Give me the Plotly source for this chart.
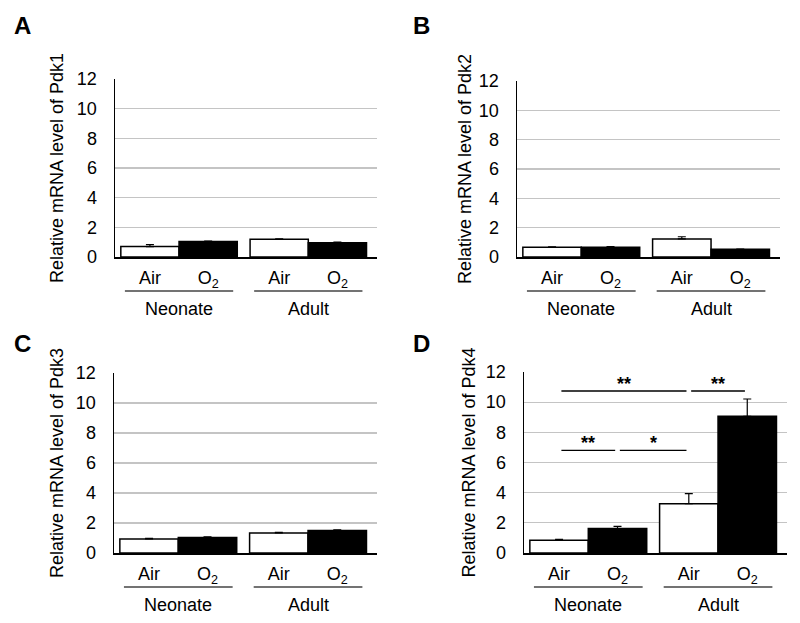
import plotly.graph_objects as go

W, H = 800, 623

groups = ["Neonate", "Adult"]
conditions = ["Air", "O<sub>2</sub>"]
genes = ["Pdk1", "Pdk2", "Pdk3", "Pdk4"]
panel_letters = ["A", "B", "C", "D"]

# values: [Neonate Air, Neonate O2, Adult Air, Adult O2]
pdk1_mean = [0.70, 1.05, 1.19, 0.96]
pdk1_err = [0.14, 0.03, 0.04, 0.04]
pdk2_mean = [0.66, 0.66, 1.23, 0.52]
pdk2_err = [0.03, 0.05, 0.15, 0.02]
pdk3_mean = [0.94, 1.03, 1.34, 1.50]
pdk3_err = [0.04, 0.05, 0.04, 0.05]
pdk4_mean = [0.84, 1.62, 3.27, 9.06]
pdk4_err = [0.07, 0.15, 0.67, 1.15]

means = [pdk1_mean, pdk2_mean, pdk3_mean, pdk4_mean]
errs = [pdk1_err, pdk2_err, pdk3_err, pdk4_err]

# significance in panel D: (from bar, to bar, label, level)
pdk4_sig = [(0, 2, "**", 10.74), (2, 3, "**", 10.74), (0, 1, "**", 6.81), (1, 2, "*", 6.81)]

y_ticks = [0, 2, 4, 6, 8, 10, 12]

FONT = "Arial, Liberation Sans, sans-serif"
FS = 18

# pixel boxes: (left, right, top, bottom)
boxes = [(115, 377, 79, 257), (517, 780, 81, 257), (114, 377, 373, 553), (524, 787, 372, 553)]
title_x = [57, 465, 57, 468]
letter_pos = [(22, 25), (421, 25), (22, 343), (421, 343)]

def px(x):
    return x / W

def py(y):
    return 1 - y / H

# bar positions (layout)
gap = 0.22
centers = [0.5, 1.5, 2.5 + gap, 3.5 + gap]
group_centers = [1.0, 3.0 + gap]
XR = [-0.1, 4.4]

fig = go.Figure()
layout = dict(width=W, height=H, margin=dict(l=0, r=0, t=0, b=0, autoexpand=False),
              paper_bgcolor="white", plot_bgcolor="white", showlegend=False,
              font=dict(family=FONT, color="black"))
annotations = []
shapes = []

for i in range(4):
    l, r, t, b = boxes[i]
    xa = "x" if i == 0 else f"x{i+1}"
    ya = "y" if i == 0 else f"y{i+1}"
    xkey = "xaxis" if i == 0 else f"xaxis{i+1}"
    ykey = "yaxis" if i == 0 else f"yaxis{i+1}"
    fills = ["white", "black", "white", "black"]
    fig.add_trace(go.Bar(
        x=centers, y=means[i], width=1.0, xaxis=xa, yaxis=ya,
        marker=dict(color=fills, line=dict(color="black", width=1.5)),
        error_y=dict(type="data", array=errs[i], arrayminus=[0]*4, symmetric=False,
                     color="black", thickness=1.2, width=4),
    ))
    layout[xkey] = dict(domain=[px(l), px(r)], range=XR, anchor=ya,
                        tickvals=centers, ticktext=conditions * 2,
                        ticks="outside", ticklen=4, tickcolor="rgba(0,0,0,0)",
                        tickfont=dict(size=FS, family=FONT),
                        showline=True, linecolor="black", linewidth=1.5,
                        showgrid=False, zeroline=False, fixedrange=True, automargin=False)
    layout[ykey] = dict(domain=[py(b), py(t)], range=[0, 12], anchor=xa,
                        tickvals=y_ticks, ticks="outside", ticklen=13,
                        tickcolor="rgba(0,0,0,0)",
                        tickfont=dict(size=FS, family=FONT),
                        showline=True, linecolor="black", linewidth=1.5,
                        showgrid=True, gridcolor="#c4c4c4", gridwidth=1.3,
                        zeroline=False, fixedrange=True, automargin=False)
    # y title
    annotations.append(dict(text=f"Relative mRNA level of {genes[i]}", textangle=-90,
                            x=px(title_x[i]), y=py((t + b) / 2), xref="paper", yref="paper",
                            xanchor="center", yanchor="middle",
                            showarrow=False, font=dict(size=FS, family=FONT)))
    # panel letter
    lx, ly = letter_pos[i]
    annotations.append(dict(text=f"<b>{panel_letters[i]}</b>", x=px(lx), y=py(ly),
                            xref="paper", yref="paper", xanchor="center", yanchor="middle",
                            showarrow=False, font=dict(size=24, family=FONT)))
    # group labels and underlines
    for g, gc in enumerate(group_centers):
        shapes.append(dict(type="line", xref=xa, yref="paper",
                           x0=gc - 0.93, x1=gc + 0.93, y0=py(b + 34), y1=py(b + 34),
                           line=dict(color="#444444", width=1.3)))
        annotations.append(dict(text=groups[g], x=gc, xref=xa, y=py(b + 52), yref="paper",
                                xanchor="center", yanchor="middle",
                                showarrow=False, font=dict(size=FS, family=FONT)))

# significance marks in panel D
for a, bb, lab, lev in pdk4_sig:
    x0 = centers[a] + 0.04
    x1 = centers[bb] - 0.04
    shapes.append(dict(type="line", xref="x4", yref="y4", x0=x0, x1=x1, y0=lev, y1=lev,
                       line=dict(color="black", width=1.3)))
    annotations.append(dict(text=f"<b>{lab}</b>", x=(x0 + x1) / 2, y=lev, xref="x4", yref="y4",
                            xanchor="center", yanchor="bottom", showarrow=False, yshift=-5,
                            font=dict(size=18, family=FONT)))

layout["annotations"] = annotations
layout["shapes"] = shapes
fig.update_layout(**layout)
fig.write_html("out.html", config={"displayModeBar": False, "staticPlot": True},
               post_script="document.body.style.margin='0px';")
